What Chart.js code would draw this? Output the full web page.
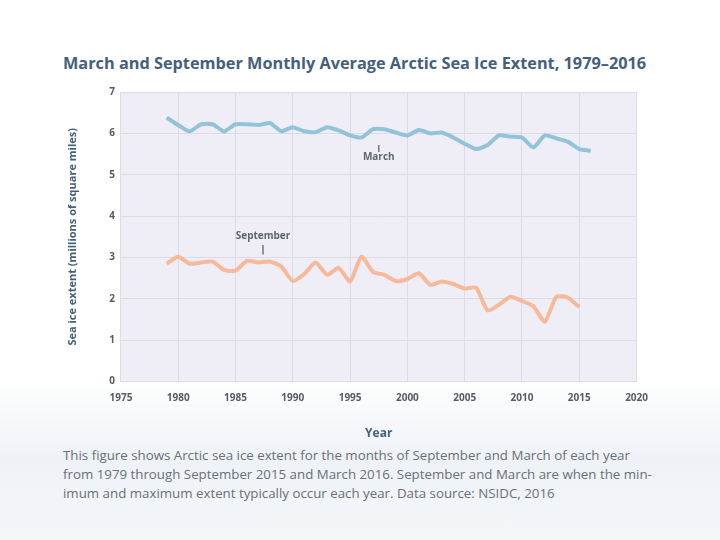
<!DOCTYPE html>
<html>
<head>
<meta charset="utf-8">
<script src="https://cdn.jsdelivr.net/npm/chart.js@4.4.0/dist/chart.umd.min.js"></script>
<style>
    html, body {
        margin: 0;
        padding: 0;
        width: 720px;
        height: 540px;
        overflow: hidden;
        font-family: "Open Sans", "DejaVu Sans", sans-serif;
        background: linear-gradient(to bottom, #ffffff 0%, #ffffff 70%, #eef2f7 85%, #f4f6f9 100%);
    }
    #title {
        position: absolute;
        left: 63px;
        top: 52px;
        font-size: 16.3px;
        font-weight: bold;
        color: #44607c;
        white-space: nowrap;
    }
    #wrap {
        position: absolute;
        left: 62px;
        top: 80px;
        width: 597px;
        height: 365px;
    }
    #caption {
        position: absolute;
        left: 63px;
        top: 446px;
        width: 620px;
        font-size: 13.3px;
        line-height: 19px;
        color: #6a6f76;
        white-space: nowrap;
    }
</style>
</head>
<body>
<div id="title">March and September Monthly Average Arctic Sea Ice Extent, 1979–2016</div>
<div id="wrap"><canvas id="iceChart"></canvas></div>
<div id="caption">
    This figure shows Arctic sea ice extent for the months of September and March of each year<br>
    from 1979 through September 2015 and March 2016. September and March are when the min-<br>
    imum and maximum extent typically occur each year. Data source: NSIDC, 2016
</div>

<script>
// years
const marchYears = [];
for (let y = 1979; y <= 2016; y++) marchYears.push(y);
const septYears = [];
for (let y = 1979; y <= 2015; y++) septYears.push(y);

// million square miles
const marchExtent = [
    6.38, 6.20, 6.05, 6.22, 6.22, 6.05, 6.22, 6.22, 6.20, 6.25,
    6.05, 6.15, 6.05, 6.03, 6.15, 6.07, 5.95, 5.90, 6.10, 6.10,
    6.02, 5.95, 6.08, 6.00, 6.02, 5.90, 5.75, 5.62, 5.72, 5.95,
    5.92, 5.90, 5.66, 5.95, 5.88, 5.80, 5.62, 5.58
];
const septExtent = [
    2.85, 3.02, 2.85, 2.88, 2.90, 2.70, 2.68, 2.92, 2.88, 2.90,
    2.78, 2.43, 2.60, 2.88, 2.58, 2.75, 2.42, 3.02, 2.65, 2.58,
    2.43, 2.48, 2.62, 2.34, 2.42, 2.36, 2.25, 2.27, 1.72, 1.86,
    2.05, 1.95, 1.82, 1.45, 2.05, 2.03, 1.80
];

const xTicks = [1975, 1980, 1985, 1990, 1995, 2000, 2005, 2010, 2015, 2020];
const yTicks = [0, 1, 2, 3, 4, 5, 6, 7];

// label text, anchor year/value, tick line start/end values
const notes = [
    { text: 'March', year: 1997.5, value: 5.42, from: 5.72, to: 5.55 },
    { text: 'September', year: 1987.4, value: 3.52, from: 3.30, to: 3.07 }
];

const plotBg = {
    id: 'plotBg',
    beforeDraw(chart) {
        const a = chart.chartArea;
        const ctx = chart.ctx;
        ctx.save();
        ctx.fillStyle = '#efeef6';
        ctx.fillRect(a.left, a.top, a.right - a.left, a.bottom - a.top);
        ctx.restore();
    }
};

const noteLabels = {
    id: 'noteLabels',
    afterDatasetsDraw(chart) {
        const ctx = chart.ctx;
        const xs = chart.scales.x;
        const ys = chart.scales.y;
        ctx.save();
        notes.forEach(n => {
            const px = xs.getPixelForValue(n.year);
            ctx.strokeStyle = '#6d7880';
            ctx.lineWidth = 1.5;
            ctx.beginPath();
            ctx.moveTo(px, ys.getPixelForValue(n.from));
            ctx.lineTo(px, ys.getPixelForValue(n.to));
            ctx.stroke();
            ctx.fillStyle = '#5c6870';
            ctx.font = 'bold 10px "Open Sans", sans-serif';
            ctx.textAlign = 'center';
            ctx.textBaseline = 'middle';
            ctx.fillText(n.text, px, ys.getPixelForValue(n.value));
        });
        ctx.restore();
    }
};

const ctx = document.getElementById('iceChart').getContext('2d');

new Chart(ctx, {
    type: 'line',
    data: {
        datasets: [
            {
                label: 'March',
                data: marchYears.map((y, i) => ({ x: y, y: marchExtent[i] })),
                borderColor: '#93c3d8',
                borderWidth: 4,
                pointRadius: 0,
                tension: 0.2
            },
            {
                label: 'September',
                data: septYears.map((y, i) => ({ x: y, y: septExtent[i] })),
                borderColor: '#f6b999',
                borderWidth: 4,
                pointRadius: 0,
                tension: 0.2
            }
        ]
    },
    options: {
        responsive: true,
        maintainAspectRatio: false,
        animation: false,
        layout: { padding: { top: 5, right: 12 } },
        plugins: {
            legend: { display: false },
            tooltip: { enabled: false }
        },
        scales: {
            x: {
                type: 'linear',
                min: 1975,
                max: 2020,
                afterBuildTicks: axis => { axis.ticks = xTicks.map(v => ({ value: v })); },
                ticks: {
                    callback: v => String(v),
                    color: '#555b62',
                    font: { size: 10, weight: 'bold', family: '"Open Sans", sans-serif' },
                    maxRotation: 0,
                    padding: 11
                },
                grid: { color: '#dcdbe6', drawTicks: false },
                border: { display: false },
                title: {
                    display: true,
                    text: 'Year',
                    color: '#44607c',
                    font: { size: 12, weight: 'bold', family: '"Open Sans", sans-serif' },
                    padding: { top: 11 }
                }
            },
            y: {
                min: 0,
                max: 7,
                afterBuildTicks: axis => { axis.ticks = yTicks.map(v => ({ value: v })); },
                ticks: {
                    color: '#555b62',
                    font: { size: 10, weight: 'bold', family: '"Open Sans", sans-serif' },
                    padding: 6
                },
                grid: { color: '#dcdbe6', drawTicks: false },
                border: { display: false },
                title: {
                    display: true,
                    text: 'Sea ice extent (millions of square miles)',
                    color: '#44607c',
                    font: { size: 11, weight: 'bold', family: '"Open Sans", sans-serif' },
                    padding: { bottom: 24 }
                }
            }
        }
    },
    plugins: [plotBg, noteLabels]
});
</script>
</body>
</html>
